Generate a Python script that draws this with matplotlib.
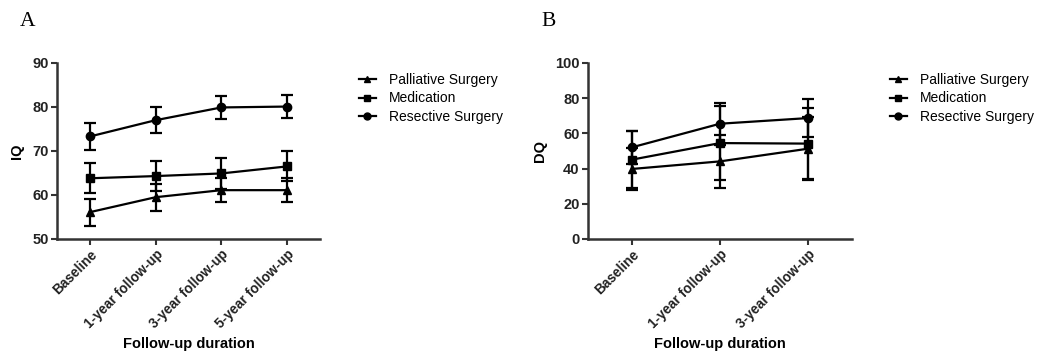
import matplotlib
matplotlib.use("Agg")
import matplotlib.pyplot as plt
from matplotlib.lines import Line2D

plt.rcParams["font.family"] = ["Liberation Sans", "DejaVu Sans"]

# Panel A: IQ over follow-up
iq_categories = ["Baseline", "1-year follow-up", "3-year follow-up", "5-year follow-up"]
iq_palliative = [56.1, 59.5, 61.1, 61.1]
iq_palliative_err = [3.1, 3.1, 2.8, 2.8]
iq_medication = [63.8, 64.3, 64.9, 66.5]
iq_medication_err = [3.4, 3.4, 3.6, 3.4]
iq_resective = [73.3, 77.0, 79.9, 80.1]
iq_resective_err = [3.0, 2.9, 2.6, 2.6]

# Panel B: DQ over follow-up
dq_categories = ["Baseline", "1-year follow-up", "3-year follow-up"]
dq_palliative = [39.8, 44.1, 51.3]
dq_palliative_err = [12.0, 15.0, 18.0]
dq_medication = [45.1, 54.5, 54.2]
dq_medication_err = [16.0, 21.0, 20.0]
dq_resective = [52.1, 65.5, 68.7]
dq_resective_err = [9.5, 12.0, 10.7]

series_names = ["Palliative Surgery", "Medication", "Resective Surgery"]
markers = ["^", "s", "o"]

W, H = 1051, 354
fig = plt.figure(figsize=(W / 100, H / 100), dpi=100)


def px_axes(left, top, right, bottom):
    return fig.add_axes([left / W, 1 - bottom / H, (right - left) / W, (bottom - top) / H])


def draw_panel(ax, cats, series, errs, ylim, yticks, ylabel):
    x = list(range(len(cats)))
    for vals, err, mk, name in zip(series, errs, markers, series_names):
        ax.errorbar(x, vals, yerr=err, color="black", lw=1.6, marker=mk,
                    markersize=6, capsize=4.5, capthick=1.6, elinewidth=1.6)
    ax.set_xlim(-0.5, len(cats) - 0.5)
    ax.set_ylim(*ylim)
    ax.set_yticks(yticks)
    ax.set_xticks(x)
    ax.set_xticklabels(cats, rotation=45, ha="right", rotation_mode="anchor",
                       fontsize=9.8, fontweight="bold", color="#222222")
    for lab in ax.get_yticklabels():
        lab.set_fontsize(10.5)
        lab.set_fontweight("bold")
        lab.set_color("#222222")
    for side in ("top", "right"):
        ax.spines[side].set_visible(False)
    for side in ("left", "bottom"):
        ax.spines[side].set_linewidth(1.8)
        ax.spines[side].set_color("#333333")
    ax.tick_params(axis="both", direction="out", length=4, width=1.5,
                   color="#333333", pad=2)
    ax.set_ylabel(ylabel, fontsize=10.5, fontweight="bold", labelpad=6)
    ax.set_xlabel("Follow-up duration", fontsize=10.5, fontweight="bold", labelpad=4)


axA = px_axes(57, 63, 320, 239)
draw_panel(axA, iq_categories,
           [iq_palliative, iq_medication, iq_resective],
           [iq_palliative_err, iq_medication_err, iq_resective_err],
           (50, 90), [50, 60, 70, 80, 90], "IQ")

axB = px_axes(588, 63, 852, 239)
draw_panel(axB, dq_categories,
           [dq_palliative, dq_medication, dq_resective],
           [dq_palliative_err, dq_medication_err, dq_resective_err],
           (0, 100), [0, 20, 40, 60, 80, 100], "DQ")

legend_handles = [Line2D([], [], color="black", lw=1.6, marker=mk, markersize=5)
                  for mk in markers]
legend_kw = dict(loc="upper left", frameon=False, fontsize=10,
                 handlelength=1.25, handletextpad=0.95, labelspacing=0.35,
                 borderaxespad=0)
axA.legend(handles=legend_handles, labels=series_names,
           bbox_to_anchor=(353 / W, 1 - 67 / H), bbox_transform=fig.transFigure,
           **legend_kw)
axB.legend(handles=legend_handles, labels=series_names,
           bbox_to_anchor=(884 / W, 1 - 67 / H), bbox_transform=fig.transFigure,
           **legend_kw)

fig.text(20 / W, 1 - 22 / H, "A", fontsize=15.5, family="Liberation Serif", va="center")
fig.text(541 / W, 1 - 22 / H, "B", fontsize=15.5, family="Liberation Serif", va="center")

fig.savefig("out.png", dpi=100, facecolor="white")
